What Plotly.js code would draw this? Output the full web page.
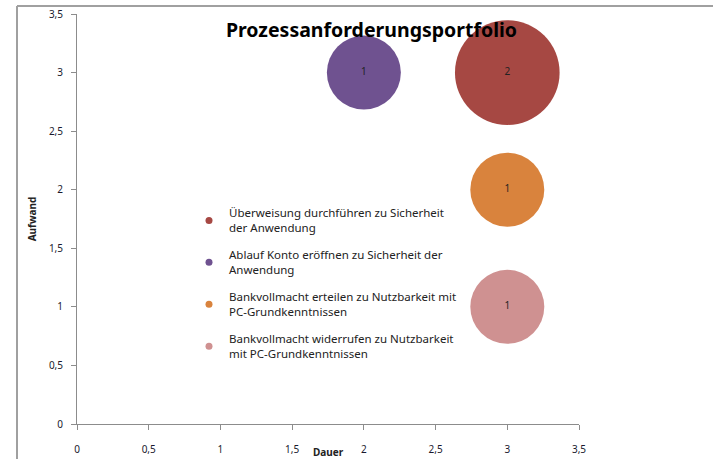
<!DOCTYPE html>
<html><head><meta charset="utf-8">
<script src="https://cdn.plot.ly/plotly-3.0.1.min.js"></script>
<style>html,body{margin:0;padding:0;background:#fff;}#chart{width:713px;height:459px;}</style>
</head><body><div id="chart"></div>
<script>
const seriesNames = [
  "Überweisung durchführen zu Sicherheit<br>der Anwendung",
  "Ablauf Konto eröffnen zu Sicherheit der<br>Anwendung",
  "Bankvollmacht erteilen zu Nutzbarkeit mit<br>PC-Grundkenntnissen",
  "Bankvollmacht widerrufen zu Nutzbarkeit<br>mit PC-Grundkenntnissen"
];
const dauer = [3, 2, 3, 3];
const aufwand = [3, 3, 2, 1];
const anzahl = [2, 1, 1, 1];
const colors = ["#A64843", "#6F5290", "#D9833D", "#CF9191"];
const xTicks = [0, 0.5, 1, 1.5, 2, 2.5, 3, 3.5];
const yTicks = [0, 0.5, 1, 1.5, 2, 2.5, 3, 3.5];

const traces = [];
for (let i = 0; i < seriesNames.length; i++) {
  traces.push({
    type: "scatter", mode: "markers+text",
    x: [dauer[i]], y: [aufwand[i]],
    text: [String(anzahl[i])], textposition: "middle center",
    textfont: {family: "Noto Sans, sans-serif", size: 10, color: "#222"},
    marker: {size: [anzahl[i]], sizemode: "area", sizeref: 2/5476, color: colors[i], line: {width: 0}, opacity: 1},
    showlegend: false, legendgroup: "g" + i, hoverinfo: "skip", cliponaxis: false
  });
}
for (let i = 0; i < seriesNames.length; i++) {
  traces.push({
    type: "scatter", mode: "markers", x: [null], y: [null],
    name: seriesNames[i], legendgroup: "g" + i,
    marker: {size: 7, color: colors[i]}, showlegend: true
  });
}

const L = 77, R = 579, T = 14, B = 424;
const px = v => (v - L) / (R - L);
const py = v => (B - v) / (B - T);

const layout = {
  width: 713, height: 459,
  margin: {l: L, r: 713 - R, t: T, b: 459 - B, pad: 0},
  paper_bgcolor: "#fff", plot_bgcolor: "#fff",
  separators: ",.",
  font: {family: "Noto Sans, sans-serif", size: 10, color: "#222"},
  title: {text: "<b>Prozessanforderungsportfolio</b>", font: {family: "Noto Sans, sans-serif", size: 19.5, color: "#000"},
          xref: "container", x: 0.521, xanchor: "center", yref: "container", y: 1 - 30/459, yanchor: "middle"},
  xaxis: {range: [0, 3.5], tickvals: xTicks, ticktext: xTicks.map(v => String(v).replace(".", ",")),
          showgrid: false, zeroline: false, showline: true, linecolor: "#8c8c8c", linewidth: 1,
          ticks: "outside", ticklen: 5, tickcolor: "#8c8c8c", ticklabelstandoff: 11,
          tickfont: {size: 10, color: "#1a1a2e"},
          title: {text: "<b>Dauer</b>", font: {size: 10, color: "#222"}, standoff: 0}},
  yaxis: {range: [0, 3.5], tickvals: yTicks, ticktext: yTicks.map(v => String(v).replace(".", ",")),
          showgrid: false, zeroline: false, showline: true, linecolor: "#8c8c8c", linewidth: 1,
          ticks: "outside", ticklen: 5, tickcolor: "#8c8c8c", ticklabelstandoff: 6,
          tickfont: {size: 10, color: "#1a1a2e"},
          title: {text: "<b>Aufwand</b>", font: {size: 10, color: "#222"}, standoff: 10}},
  legend: {x: px(189), y: py(199), xanchor: "left", yanchor: "top", bgcolor: "rgba(0,0,0,0)",
           font: {size: 11.5, color: "#222"}, tracegroupgap: 9, itemwidth: 30, traceorder: "grouped"},
  shapes: [
    {type: "line", xref: "paper", yref: "paper", x0: px(17), x1: px(713), y0: py(6), y1: py(6), line: {color: "#a0a0a0", width: 2}},
    {type: "line", xref: "paper", yref: "paper", x0: px(17), x1: px(17), y0: py(6), y1: py(459), line: {color: "#a0a0a0", width: 2}}
  ]
};
Plotly.newPlot("chart", traces, layout, {displayModeBar: false, staticPlot: true});
</script></body></html>
